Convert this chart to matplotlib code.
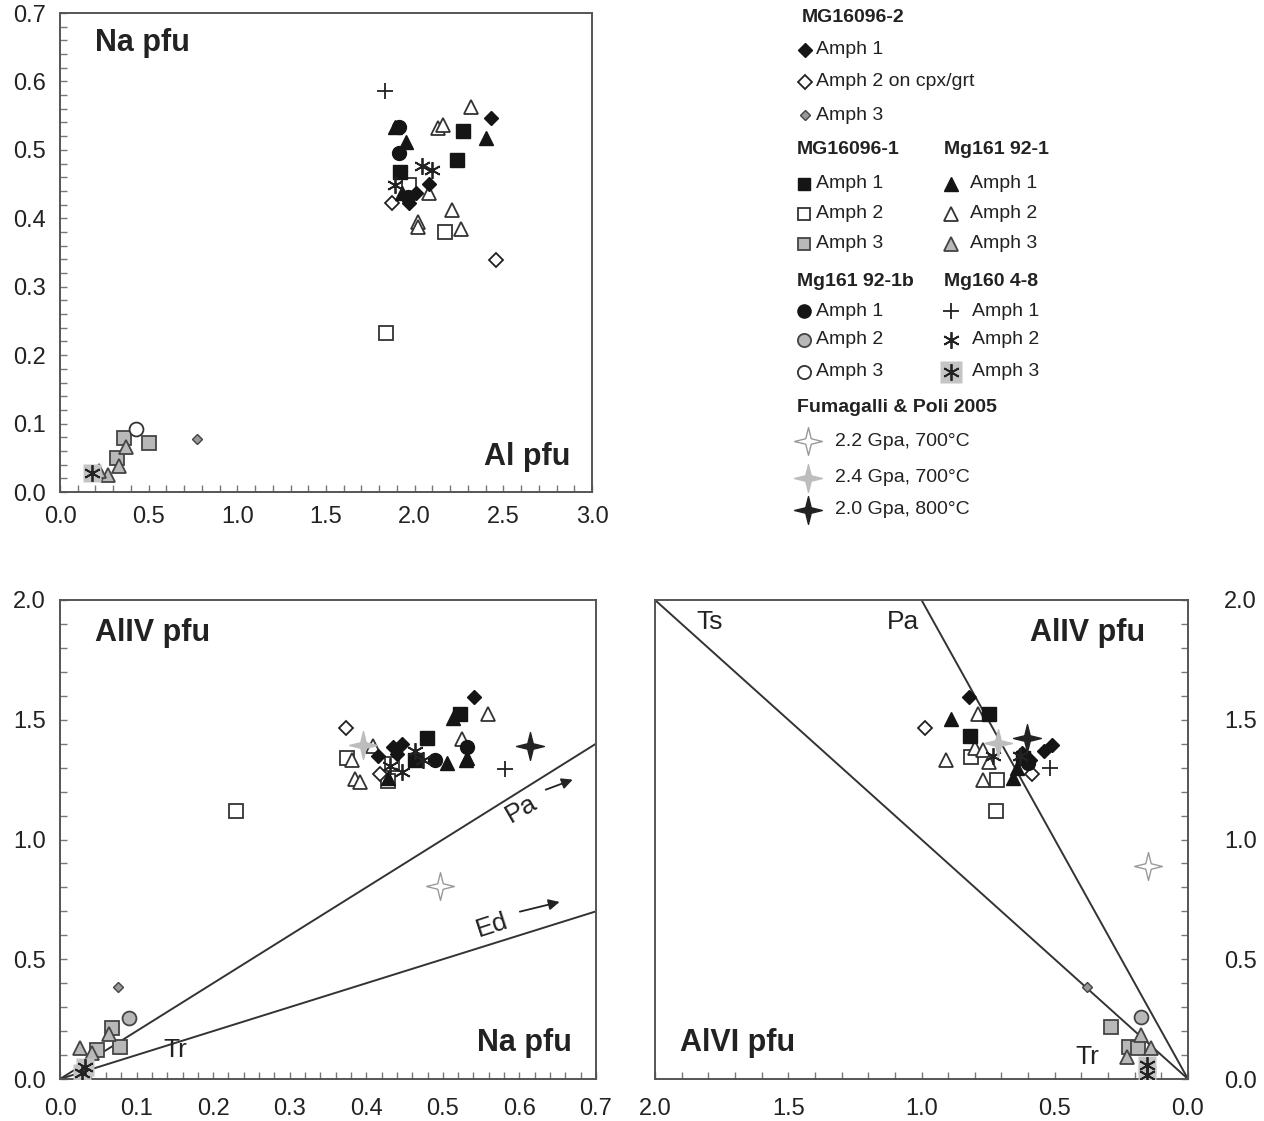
import numpy as np
import matplotlib
matplotlib.use('Agg')
import matplotlib.pyplot as plt
from matplotlib.path import Path
from matplotlib.ticker import MultipleLocator, FormatStrFormatter

plt.rcParams.update({
    'font.family': ['Liberation Sans', 'DejaVu Sans'],
    'font.size': 17,
    'text.color': '#222222',
    'axes.edgecolor': '#555555',
    'axes.linewidth': 1.4,
    'xtick.color': '#777777',
    'ytick.color': '#777777',
    'xtick.labelcolor': '#222222',
    'ytick.labelcolor': '#222222',
    'xtick.direction': 'in',
    'ytick.direction': 'in',
})

# ---- top panel: Al pfu (x) vs Na pfu (y) ----
top_mg2a1 = ([2.43, 2.08, 2.01, 1.97], [0.547, 0.450, 0.437, 0.422])
top_mg2a2 = ([1.87, 2.46], [0.422, 0.339])
top_mg2a3 = ([0.77], [0.077])
top_mg1a1 = ([2.27, 2.24, 1.92], [0.528, 0.485, 0.468])
top_mg1a2 = ([1.97, 2.17, 1.84], [0.449, 0.380, 0.232])
top_mg1a3 = ([0.36, 0.50, 0.32], [0.079, 0.071, 0.050])
top_mgta1 = ([1.89, 2.40, 1.95, 1.93], [0.534, 0.518, 0.512, 0.437])
top_mgta2 = ([2.32, 2.13, 2.16, 2.08, 2.21, 2.02, 2.02, 2.26],
             [0.563, 0.532, 0.537, 0.437, 0.412, 0.395, 0.387, 0.384])
top_mgta3 = ([0.37, 0.33, 0.27, 0.22], [0.066, 0.038, 0.025, 0.030])
top_mgca1 = ([1.91, 1.91, 1.96], [0.534, 0.496, 0.431])
top_mgca2 = ([], [])
top_mgca3 = ([0.43], [0.092])
top_mg4a1 = ([1.83], [0.586])
top_mg4a2 = ([2.04, 2.10, 1.89], [0.477, 0.471, 0.449])
top_mg4a3 = ([0.18], [0.028])

# ---- bottom left: Na pfu (x) vs AlIV pfu (y) ----
bl_mg2a1 = ([0.541, 0.435, 0.447, 0.415, 0.440], [1.596, 1.385, 1.400, 1.350, 1.358])
bl_mg2a2 = ([0.374, 0.418], [1.467, 1.275])
bl_mg2a3 = ([0.076], [0.383])
bl_mg1a1 = ([0.522, 0.479, 0.464], [1.525, 1.425, 1.330])
bl_mg1a2 = ([0.375, 0.428, 0.434, 0.230], [1.342, 1.246, 1.317, 1.121])
bl_mg1a3 = ([0.068, 0.078, 0.048], [0.213, 0.133, 0.121])
bl_mgta1 = ([0.513, 0.505, 0.530, 0.428, 0.531], [1.508, 1.320, 1.333, 1.258, 1.340])
bl_mgta2 = ([0.559, 0.525, 0.409, 0.381, 0.385, 0.392],
            [1.525, 1.421, 1.392, 1.330, 1.254, 1.242])
bl_mgta3 = ([0.064, 0.026, 0.042], [0.188, 0.129, 0.108])
bl_mgca1 = ([0.531, 0.490], [1.385, 1.330])
bl_mgca2 = ([0.090], [0.254])
bl_mgca3 = ([], [])
bl_mg4a1 = ([0.581], [1.296])
bl_mg4a2 = ([0.464, 0.474, 0.431, 0.447], [1.370, 1.330, 1.308, 1.280])
bl_mg4a3 = ([0.033, 0.029], [0.050, 0.025])

# ---- bottom right: AlVI pfu (x) vs AlIV pfu (y) ----
br_mg2a1 = ([0.822, 0.510, 0.540, 0.623, 0.593], [1.596, 1.396, 1.371, 1.363, 1.330])
br_mg2a2 = ([0.987, 0.585], [1.467, 1.275])
br_mg2a3 = ([0.379], [0.383])
br_mg1a1 = ([0.747, 0.818, 0.620], [1.525, 1.433, 1.340])
br_mg1a2 = ([0.814, 0.717, 0.720], [1.346, 1.250, 1.117])
br_mg1a3 = ([0.289, 0.221, 0.188], [0.217, 0.133, 0.129])
br_mgta1 = ([0.889, 0.657, 0.640], [1.504, 1.258, 1.300])
br_mgta2 = ([0.788, 0.799, 0.769, 0.908, 0.747, 0.769],
            [1.525, 1.383, 1.375, 1.333, 1.325, 1.250])
br_mgta3 = ([0.176, 0.139, 0.229], [0.183, 0.129, 0.092])
br_mgca1 = ([0.600], [1.320])
br_mgca2 = ([0.176], [0.258])
br_mgca3 = ([], [])
br_mg4a1 = ([0.518], [1.300])
br_mg4a2 = ([0.730, 0.630], [1.350, 1.350])
br_mg4a3 = ([0.154, 0.154], [0.058, 0.017])

# Fumagalli & Poli 2005 experiments (bottom left, bottom right)
fp_22_bl, fp_22_br = ([0.496], [0.804]), ([0.150], [0.888])
fp_24_bl, fp_24_br = ([0.396], [1.396]), ([0.713], [1.404])
fp_20_bl, fp_20_br = ([0.614], [1.392]), ([0.604], [1.425])

# substitution vectors
pa_slope_na = 2.0   # AlIV = 2 Na
ed_slope_na = 1.0   # AlIV = Na
ts_slope_vi = 1.0   # AlIV = AlVI
pa_slope_vi = 2.0   # AlIV = 2 AlVI

GRAY = '#b8b8b8'
DARK = '#151515'
ang = np.pi / 2 + np.arange(8) * np.pi / 4
rad = np.where(np.arange(8) % 2 == 0, 1.0, 0.28)
sv = np.column_stack([rad * np.cos(ang), rad * np.sin(ang)])
star = Path(np.vstack([sv, sv[:1]]), [Path.MOVETO] + [Path.LINETO] * 7 + [Path.CLOSEPOLY])

styles = {
    'mg2a1': dict(marker='D', ms=7.5, mfc=DARK, mec=DARK, mew=1),
    'mg2a2': dict(marker='D', ms=7.5, mfc='white', mec='#222', mew=1.3),
    'mg2a3': dict(marker='D', ms=5, mfc='#999999', mec='#444', mew=1),
    'mg1a1': dict(marker='s', ms=9.5, mfc=DARK, mec=DARK, mew=1),
    'mg1a2': dict(marker='s', ms=9.5, mfc='white', mec='#333', mew=1.3),
    'mg1a3': dict(marker='s', ms=9.5, mfc=GRAY, mec='#444', mew=1.3),
    'mgta1': dict(marker='^', ms=10.5, mfc=DARK, mec=DARK, mew=1),
    'mgta2': dict(marker='^', ms=10.5, mfc='white', mec='#333', mew=1.3),
    'mgta3': dict(marker='^', ms=10.5, mfc=GRAY, mec='#444', mew=1.3),
    'mgca1': dict(marker='o', ms=10, mfc=DARK, mec=DARK, mew=1),
    'mgca2': dict(marker='o', ms=10, mfc=GRAY, mec='#444', mew=1.3),
    'mgca3': dict(marker='o', ms=10, mfc='white', mec='#333', mew=1.3),
    'mg4a1': dict(marker='+', ms=11, mec='#222', mew=1.3),
    'mg4a2': dict(marker=(6, 2, 0), ms=12, mec='#222', mew=1.3),
    'mg4a3': dict(marker=(6, 2, 0), ms=12, mec='#222', mew=1.3),
    'fp22': dict(marker=star, ms=20, mfc='white', mec='#9a9a9a', mew=1),
    'fp24': dict(marker=star, ms=20, mfc='#bdbdbd', mec='#bdbdbd', mew=1),
    'fp20': dict(marker=star, ms=20, mfc='#222', mec='#222', mew=1),
}
bg_square = dict(marker='s', ms=13, mfc='#c4c4c4', mec='none')

order = ['mg1a2', 'mgta2', 'mg2a2', 'mg1a3', 'mgta3', 'mgca2', 'mgca3', 'mg2a3',
         'mg4a3', 'mg1a1', 'mgta1', 'mg2a1', 'mgca1', 'mg4a1', 'mg4a2']
top = dict(zip(order, [top_mg1a2, top_mgta2, top_mg2a2, top_mg1a3, top_mgta3, top_mgca2,
                       top_mgca3, top_mg2a3, top_mg4a3, top_mg1a1, top_mgta1, top_mg2a1,
                       top_mgca1, top_mg4a1, top_mg4a2]))
bl = dict(zip(order, [bl_mg1a2, bl_mgta2, bl_mg2a2, bl_mg1a3, bl_mgta3, bl_mgca2,
                      bl_mgca3, bl_mg2a3, bl_mg4a3, bl_mg1a1, bl_mgta1, bl_mg2a1,
                      bl_mgca1, bl_mg4a1, bl_mg4a2]))
br = dict(zip(order, [br_mg1a2, br_mgta2, br_mg2a2, br_mg1a3, br_mgta3, br_mgca2,
                      br_mgca3, br_mg2a3, br_mg4a3, br_mg1a1, br_mgta1, br_mg2a1,
                      br_mgca1, br_mg4a1, br_mg4a2]))


def draw_points(ax, series):
    for key in order:
        x, y = series[key]
        if len(x) == 0:
            continue
        if key == 'mg4a3':
            ax.plot(x, y, ls='none', zorder=3, **bg_square)
        ax.plot(x, y, ls='none', zorder=3, **styles[key])


def style_axis(ax, xmaj, xmin, ymaj, ymin, xpad, ypad):
    ax.xaxis.set_major_locator(MultipleLocator(xmaj))
    ax.xaxis.set_minor_locator(MultipleLocator(xmin))
    ax.yaxis.set_major_locator(MultipleLocator(ymaj))
    ax.yaxis.set_minor_locator(MultipleLocator(ymin))
    ax.xaxis.set_major_formatter(FormatStrFormatter('%.1f'))
    ax.yaxis.set_major_formatter(FormatStrFormatter('%.1f'))
    ax.tick_params(axis='both', which='both', length=5, width=1, labelsize=17)
    ax.tick_params(axis='x', which='major', pad=xpad)
    ax.tick_params(axis='y', which='major', pad=ypad)


W, H = 1264, 1121
fig = plt.figure(figsize=(W / 100, H / 100), dpi=100)
ax1 = fig.add_axes([60 / W, 1 - 492 / H, 532 / W, 479 / H])
ax2 = fig.add_axes([60 / W, 1 - 1079 / H, 536 / W, 479 / H])
ax3 = fig.add_axes([655 / W, 1 - 1079 / H, 533 / W, 479 / H])

# top panel
ax1.set_xlim(0, 3.0)
ax1.set_ylim(0, 0.7)
style_axis(ax1, 0.5, 0.1, 0.1, 0.02, 10, 10)
draw_points(ax1, top)
ax1.text(0.066, 0.937, 'Na pfu', transform=ax1.transAxes, fontsize=22,
         fontweight='bold', va='center', ha='left')
ax1.text(0.959, 0.073, 'Al pfu', transform=ax1.transAxes, fontsize=22,
         fontweight='bold', va='center', ha='right')

# bottom left
ax2.set_xlim(0, 0.7)
ax2.set_ylim(0, 2.0)
style_axis(ax2, 0.1, 0.02, 0.5, 0.1, 14, 10)
na = np.array(ax2.get_xlim())
ax2.plot(na, pa_slope_na * na, color='#333', lw=1.4, zorder=2)
ax2.plot(na, ed_slope_na * na, color='#333', lw=1.4, zorder=2)
draw_points(ax2, bl)
ax2.plot(*fp_22_bl, ls='none', zorder=4, **styles['fp22'])
ax2.plot(*fp_24_bl, ls='none', zorder=4, **styles['fp24'])
ax2.plot(*fp_20_bl, ls='none', zorder=4, **styles['fp20'])
ax2.text(0.603, 1.129, 'Pa', fontsize=19, rotation=30, ha='center', va='center')
ax2.text(0.564, 0.642, 'Ed', fontsize=19, rotation=18, ha='center', va='center')
ax2.annotate('', xy=(0.673, 1.254), xytext=(0.631, 1.204),
             arrowprops=dict(arrowstyle='-|>', color='#222', lw=1.3, mutation_scale=16))
ax2.annotate('', xy=(0.656, 0.742), xytext=(0.597, 0.696),
             arrowprops=dict(arrowstyle='-|>', color='#222', lw=1.3, mutation_scale=16))
ax2.text(0.150, 0.121, 'Tr', fontsize=19, ha='center', va='center')
ax2.text(0.065, 0.931, 'AlIV pfu', transform=ax2.transAxes, fontsize=22,
         fontweight='bold', va='center', ha='left')
ax2.text(0.955, 0.075, 'Na pfu', transform=ax2.transAxes, fontsize=22,
         fontweight='bold', va='center', ha='right')

# bottom right
ax3.set_xlim(2.0, 0)
ax3.set_ylim(0, 2.0)
style_axis(ax3, 0.5, 0.1, 0.5, 0.1, 14, 26)
ax3.yaxis.tick_right()
ax3.tick_params(axis='y', which='both', left=False, right=True)
vi = np.array([0.0, 2.0])
ax3.plot(vi, ts_slope_vi * vi, color='#333', lw=1.4, zorder=2)
ax3.plot(vi / pa_slope_vi, pa_slope_vi * (vi / pa_slope_vi), color='#333', lw=1.4, zorder=2)
draw_points(ax3, br)
ax3.plot(*fp_22_br, ls='none', zorder=4, **styles['fp22'])
ax3.plot(*fp_24_br, ls='none', zorder=4, **styles['fp24'])
ax3.plot(*fp_20_br, ls='none', zorder=4, **styles['fp20'])
ax3.text(1.794, 1.908, 'Ts', fontsize=19, ha='center', va='center')
ax3.text(1.069, 1.908, 'Pa', fontsize=19, ha='center', va='center')
ax3.text(0.379, 0.092, 'Tr', fontsize=19, ha='center', va='center')
ax3.text(0.919, 0.931, 'AlIV pfu', transform=ax3.transAxes, fontsize=22,
         fontweight='bold', va='center', ha='right')
ax3.text(0.047, 0.075, 'AlVI pfu', transform=ax3.transAxes, fontsize=22,
         fontweight='bold', va='center', ha='left')

# keep end labels inside the frame height, like the original
for ax in (ax1, ax2, ax3):
    labs = ax.get_yticklabels()
    labs[0].set_va('bottom')
    labs[-1].set_va('top')

# ---- legend drawn in pixel space ----
lg = fig.add_axes([0, 0, 1, 1], zorder=-1)
lg.set_xlim(0, W)
lg.set_ylim(H, 0)
lg.set_axis_off()
lg.patch.set_alpha(0)

headers = [('MG16096-2', 802, 18), ('MG16096-1', 797, 150), ('Mg161 92-1', 944, 150),
           ('Mg161 92-1b', 797, 282), ('Mg160 4-8', 944, 282),
           ('Fumagalli & Poli 2005', 797, 408)]
for txt, x, y in headers:
    lg.text(x, y, txt, fontsize=14, fontweight='bold', ha='left', va='center')

entries = [
    ('mg2a1', 805, 816, 50, 'Amph 1'), ('mg2a2', 805, 816, 82, 'Amph 2 on cpx/grt'),
    ('mg2a3', 805, 816, 115, 'Amph 3'),
    ('mg1a1', 804, 816, 184, 'Amph 1'), ('mg1a2', 804, 816, 214, 'Amph 2'),
    ('mg1a3', 804, 816, 244, 'Amph 3'),
    ('mgta1', 951, 970, 184, 'Amph 1'), ('mgta2', 951, 970, 214, 'Amph 2'),
    ('mgta3', 951, 970, 244, 'Amph 3'),
    ('mgca1', 804, 816, 311, 'Amph 1'), ('mgca2', 804, 816, 340, 'Amph 2'),
    ('mgca3', 804, 816, 372, 'Amph 3'),
    ('mg4a1', 951, 972, 311, 'Amph 1'), ('mg4a2', 951, 972, 340, 'Amph 2'),
    ('mg4a3', 951, 972, 372, 'Amph 3'),
    ('fp22', 808, 835, 441, '2.2 Gpa, 700°C'), ('fp24', 808, 835, 478, '2.4 Gpa, 700°C'),
    ('fp20', 808, 835, 510, '2.0 Gpa, 800°C'),
]
for key, mx, tx, y, txt in entries:
    st = dict(styles[key])
    if key.startswith('mg') and st['marker'] in ('s', 'D', 'o', '^'):
        st['ms'] = st['ms'] * 0.95
    if key == 'mg4a3':
        lg.plot([mx], [y], ls='none', marker='s', ms=16, mfc='#c4c4c4', mec='none')
    lg.plot([mx], [y], ls='none', **st)
    lg.text(tx, y, txt, fontsize=14, ha='left', va='center')

fig.savefig('out.png', dpi=100)
